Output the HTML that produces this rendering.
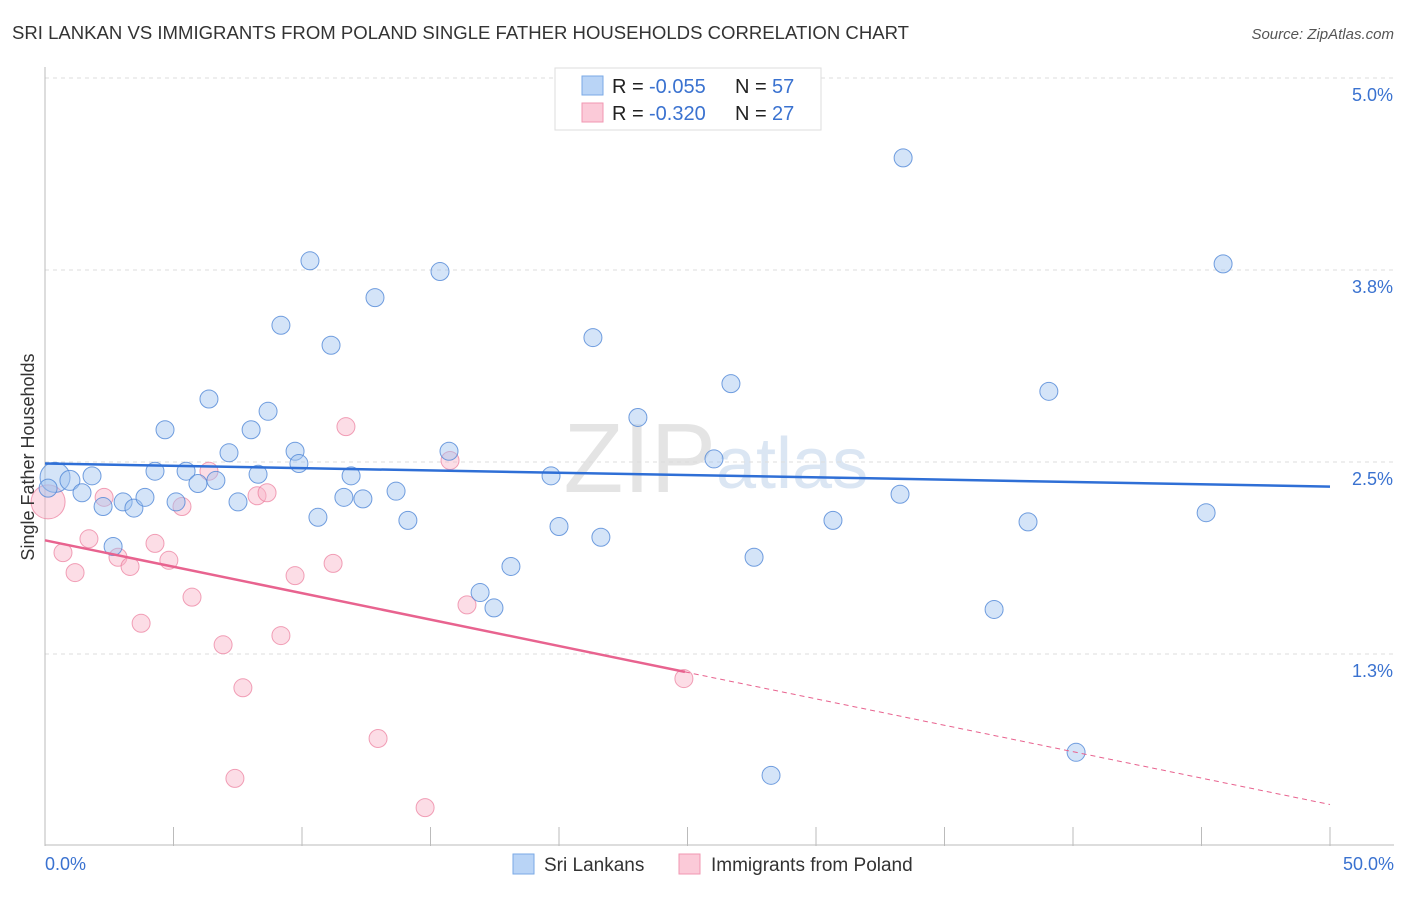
<!DOCTYPE html>
<html><head><meta charset="utf-8"><style>
body{margin:0;background:#fff;font-family:"Liberation Sans",sans-serif;}
svg text{font-family:"Liberation Sans",sans-serif;}
</style></head><body>
<svg id="chart" width="1406" height="892" viewBox="0 0 1406 892" xmlns="http://www.w3.org/2000/svg">
<text x="12" y="39" font-size="18" fill="#333" textLength="897" lengthAdjust="spacingAndGlyphs">SRI LANKAN VS IMMIGRANTS FROM POLAND SINGLE FATHER HOUSEHOLDS CORRELATION CHART</text>
<text x="1394" y="39" font-size="15" fill="#555" font-style="italic" text-anchor="end">Source: ZipAtlas.com</text>
<text x="716" y="492" font-size="98" fill="#e4e4e4" text-anchor="end" font-family="Liberation Serif">ZIP</text>
<text x="716" y="488" font-size="72" fill="#dbe6f3">atlas</text>
<g id="grid"></g>
<g id="axes"></g>
<g id="pinkpts"></g>
<g id="bluepts"></g>
<g id="trends"></g>
<text transform="translate(34,457) rotate(-90)" font-size="18" fill="#333" text-anchor="middle">Single Father Households</text>
<g>
<rect x="555" y="68" width="266" height="62" fill="#fff" stroke="#ddd"/>
<rect x="582" y="76" width="21" height="19" fill="#b9d4f6" stroke="#7aa9e6"/>
<rect x="582" y="103" width="21" height="19" fill="#fbcad8" stroke="#f097b2"/>
<text x="612" y="93" font-size="20" fill="#222">R = <tspan x="649" fill="#3a72d0">-0.055</tspan></text>
<text x="735" y="93" font-size="20" fill="#222">N = <tspan x="772" fill="#3a72d0">57</tspan></text>
<text x="612" y="120" font-size="20" fill="#222">R = <tspan x="649" fill="#3a72d0">-0.320</tspan></text>
<text x="735" y="120" font-size="20" fill="#222">N = <tspan x="772" fill="#3a72d0">27</tspan></text>
</g>
<g>
<rect x="513" y="854" width="21" height="20" fill="#b9d4f6" stroke="#7aa9e6"/>
<text x="544" y="871" font-size="19" fill="#333">Sri Lankans</text>
<rect x="679" y="854" width="21" height="20" fill="#fbcad8" stroke="#f097b2"/>
<text x="711" y="871" font-size="19" fill="#333">Immigrants from Poland</text>
</g>
</svg>
<script>
const yTicks=[1.25,2.5,3.75,5.0];
const yTickLabels=["1.3%","2.5%","3.8%","5.0%"];
const xTicks=[0,5,10,15,20,25,30,35,40,45,50];
const blueX=[0.39,0.97,1.44,1.83,2.26,2.65,3.04,3.46,3.89,4.28,4.67,5.10,5.49,5.95,6.38,6.65,7.16,7.51,8.02,8.29,8.68,9.18,9.73,9.88,10.31,10.62,11.13,11.63,11.91,12.37,12.84,13.66,14.12,15.37,15.72,16.93,17.47,18.13,19.69,20.00,21.32,21.63,23.07,26.03,26.69,27.59,28.25,30.66,33.27,33.39,36.93,38.25,39.06,40.12,45.18,45.84,0.12];
const blueY=[2.40,2.38,2.30,2.41,2.21,1.95,2.24,2.20,2.27,2.44,2.71,2.24,2.44,2.36,2.91,2.38,2.56,2.24,2.71,2.42,2.83,3.39,2.57,2.49,3.81,2.14,3.26,2.27,2.41,2.26,3.57,2.31,2.12,3.74,2.57,1.65,1.55,1.82,2.41,2.08,3.31,2.01,2.79,2.52,3.01,1.88,0.46,2.12,2.29,4.48,1.54,2.11,2.96,0.61,2.17,3.79,2.33];
const blueR=[15,10,9,9,9,9,9,9,9,9,9,9,9,9,9,9,9,9,9,9,9,9,9,9,9,9,9,9,9,9,9,9,9,9,9,9,9,9,9,9,9,9,9,9,9,9,9,9,9,9,9,9,9,9,9,9,9];
const pinkX=[0.12,0.70,1.17,1.71,2.30,2.84,3.31,3.74,4.28,4.82,5.33,5.72,6.38,6.93,7.39,7.70,8.25,8.64,9.18,9.73,11.21,11.71,12.96,14.79,15.76,16.42,24.86];
const pinkY=[2.24,1.91,1.78,2.00,2.27,1.88,1.82,1.45,1.97,1.86,2.21,1.62,2.44,1.31,0.44,1.03,2.28,2.30,1.37,1.76,1.84,2.73,0.70,0.25,2.51,1.57,1.09];
const pinkR=[17,9,9,9,9,9,9,9,9,9,9,9,9,9,9,9,9,9,9,9,9,9,9,9,9,9,9];
const blueTrend=[2.49,2.34];
const pinkTrend=[1.99,0.27];
const pinkSolidEnd=24.9;
const X0=45,X1=1330,Y0=846,Y1=78;
const sx=v=>X0+(v/50)*(X1-X0);
const sy=v=>Y0-(v/5)*(Y0-Y1);
const NS="http://www.w3.org/2000/svg";
function mk(tag,attrs,parent){const e=document.createElementNS(NS,tag);for(const k in attrs)e.setAttribute(k,attrs[k]);document.getElementById(parent).appendChild(e);return e;}
yTicks.forEach((t,i)=>{
 const g=mk('line',{x1:X0,x2:1394,y1:sy(t),y2:sy(t),stroke:'#ddd','stroke-dasharray':'4,4'},'grid');
 
 
 const tx=mk('text',{x:1393,y:sy(t)+23,'font-size':18,fill:'#3a72d0','text-anchor':'end'},'grid');
 tx.textContent=yTickLabels[i];
 
 
});
const ax=mk('line',{x1:X0,x2:X0,y1:67,y2:Y0,stroke:'#bbb'},'axes');


const bx=mk('line',{x1:X0,x2:1394,y1:Y0-1,y2:Y0-1,stroke:'#bbb'},'axes');


xTicks.forEach(t=>{
 const l=mk('line',{x1:sx(t),x2:sx(t),y1:827,y2:Y0,stroke:'#bbb'},'axes');
 
 
});
const xl0=mk('text',{x:45,y:870,'font-size':18,fill:'#3a72d0'},'axes');xl0.textContent='0.0%';


const xl1=mk('text',{x:1394,y:870,'font-size':18,fill:'#3a72d0','text-anchor':'end'},'axes');xl1.textContent='50.0%';


pinkX.forEach((v,i)=>{
 const c=mk('circle',{cx:sx(v),cy:sy(pinkY[i]),r:pinkR[i],fill:'rgba(248,180,200,0.45)',stroke:'rgba(236,130,160,0.75)','stroke-width':1},'pinkpts');
 
 
});
blueX.forEach((v,i)=>{
 const c=mk('circle',{cx:sx(v),cy:sy(blueY[i]),r:blueR[i],fill:'rgba(160,196,240,0.45)',stroke:'rgba(80,135,215,0.8)','stroke-width':1},'bluepts');
 
 
});
const bt=mk('line',{x1:sx(0),y1:sy(blueTrend[0]),x2:sx(50),y2:sy(blueTrend[1]),stroke:'#2f6fd6','stroke-width':2.5},'trends');


const pAt=x=>pinkTrend[0]+(pinkTrend[1]-pinkTrend[0])*x/50;
const pt=mk('line',{x1:sx(0),y1:sy(pinkTrend[0]),x2:sx(pinkSolidEnd),y2:sy(pAt(pinkSolidEnd)),stroke:'#e8638f','stroke-width':2.5},'trends');


const pd=mk('line',{x1:sx(pinkSolidEnd),y1:sy(pAt(pinkSolidEnd)),x2:sx(50),y2:sy(pinkTrend[1]),stroke:'#e8638f','stroke-width':1,'stroke-dasharray':'5,4'},'trends');


</script>
</body></html>
